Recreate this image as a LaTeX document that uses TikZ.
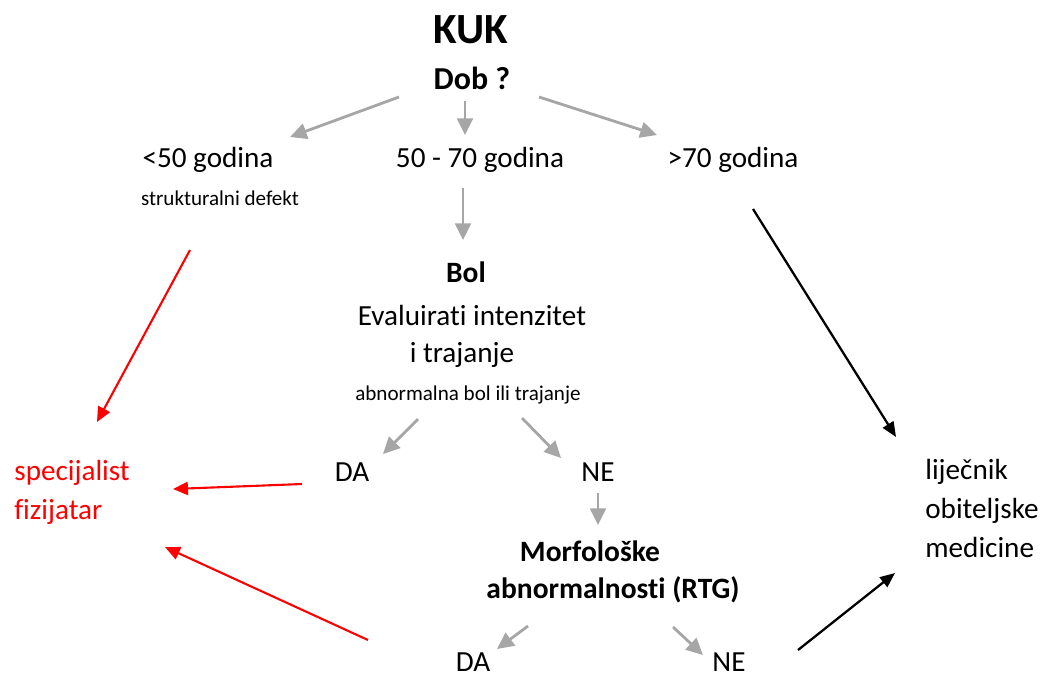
\documentclass[tikz,border=0pt]{standalone}
\usepackage{fontspec}
\setmainfont{Carlito}[Ligatures=CommonOff]
\usetikzlibrary{arrows.meta,positioning}
\definecolor{mgrey}{HTML}{A6A6A6}
\definecolor{mred}{HTML}{FF0000}
\tikzstyle{txt}=[inner sep=0pt, anchor=base, font=\fontsize{16.6}{22}\selectfont]
\tikzstyle{small}=[txt, font=\fontsize{12}{15}\selectfont]
\tikzstyle{head}=[txt, font=\bfseries\fontsize{16.8}{22}\selectfont]
\tikzstyle{lg}=[line width=1.6pt, color=mgrey, -{Triangle[length=9.5pt,width=9pt]}]
\tikzstyle{lb}=[line width=1.3pt, black, -{Triangle[length=8.5pt,width=7pt]}]
\tikzstyle{lr}=[line width=1.2pt, mred, -{Triangle[length=8.5pt,width=7.5pt]}]

\begin{document}
\begin{tikzpicture}[x=0.02cm, y=-0.02cm]
    \useasboundingbox (0,0) rectangle (1043,677);

    % tree
    \node (kuk) [head, font=\bfseries\fontsize{24.5}{28}\selectfont] at (471,43) {KUK};
    \node (dob) [head, font=\bfseries\fontsize{18.2}{22}\selectfont] at (472,89) {Dob ?};
    \node (lt50) [txt] at (208,167) {<50 godina};
    \node (mid) [txt] at (480,167) {50 - 70 godina};
    \node (gt70) [txt] at (733,167) {>70 godina};
    \node (defekt) [small] at (220,205) {strukturalni defekt};
    \node (bol) [head] at (466,282) {Bol};
    \node (eval) [txt] at (472,325) {Evaluirati intenzitet};
    \node (traj) [txt] at (462,362) {i trajanje};
    \node (abn) [small] at (468,400) {abnormalna bol ili trajanje};
    \node (da1) [txt] at (352,481) {DA};
    \node (ne1) [txt] at (598,481) {NE};
    \node (morf) [head] at (590,561) {Morfološke};
    \node (rtg) [head] at (613,598) {abnormalnosti (RTG)};
    \node (da2) [txt] at (473,671) {DA};
    \node (ne2) [txt] at (729,671) {NE};

    % endpoints
    \node (spec) [txt, anchor=base west, align=left, text=mred] at (14,519) {specijalist\\fizijatar};
    \node (lom) [txt, anchor=base west, align=left] at (925,557) {liječnik\\obiteljske\\medicine};

    \coordinate (a1) at (399,97);  \coordinate (b1) at (290,137);
    \coordinate (a2) at (465,101); \coordinate (b2) at (465,135);
    \coordinate (a3) at (539,97);  \coordinate (b3) at (657,135);
    \coordinate (a4) at (463,188); \coordinate (b4) at (463,240);
    \coordinate (a5) at (418,419); \coordinate (b5) at (383,454);
    \coordinate (a6) at (522,418); \coordinate (b6) at (561,458);
    \coordinate (a7) at (598,493); \coordinate (b7) at (598,525);
    \coordinate (a8) at (528,626); \coordinate (b8) at (497,649);
    \coordinate (a9) at (673,627); \coordinate (b9) at (703,655);

    \foreach \i in {1,...,9}
        \draw[lg] (a\i) -- (b\i);

    \coordinate (r1) at (190,250); \coordinate (s1) at (97,422);
    \coordinate (r2) at (302,484); \coordinate (s2) at (173,489);
    \coordinate (r3) at (368,640); \coordinate (s3) at (165,547);
    \foreach \i in {1,2,3}
        \draw[lr] (r\i) -- (s\i);

    \coordinate (k1) at (753,209); \coordinate (m1) at (896,437);
    \coordinate (k2) at (798,650); \coordinate (m2) at (895,573);
    \draw[lb] (k1) -- (m1);
    \draw[lb] (k2) -- (m2);
\end{tikzpicture}
\end{document}
